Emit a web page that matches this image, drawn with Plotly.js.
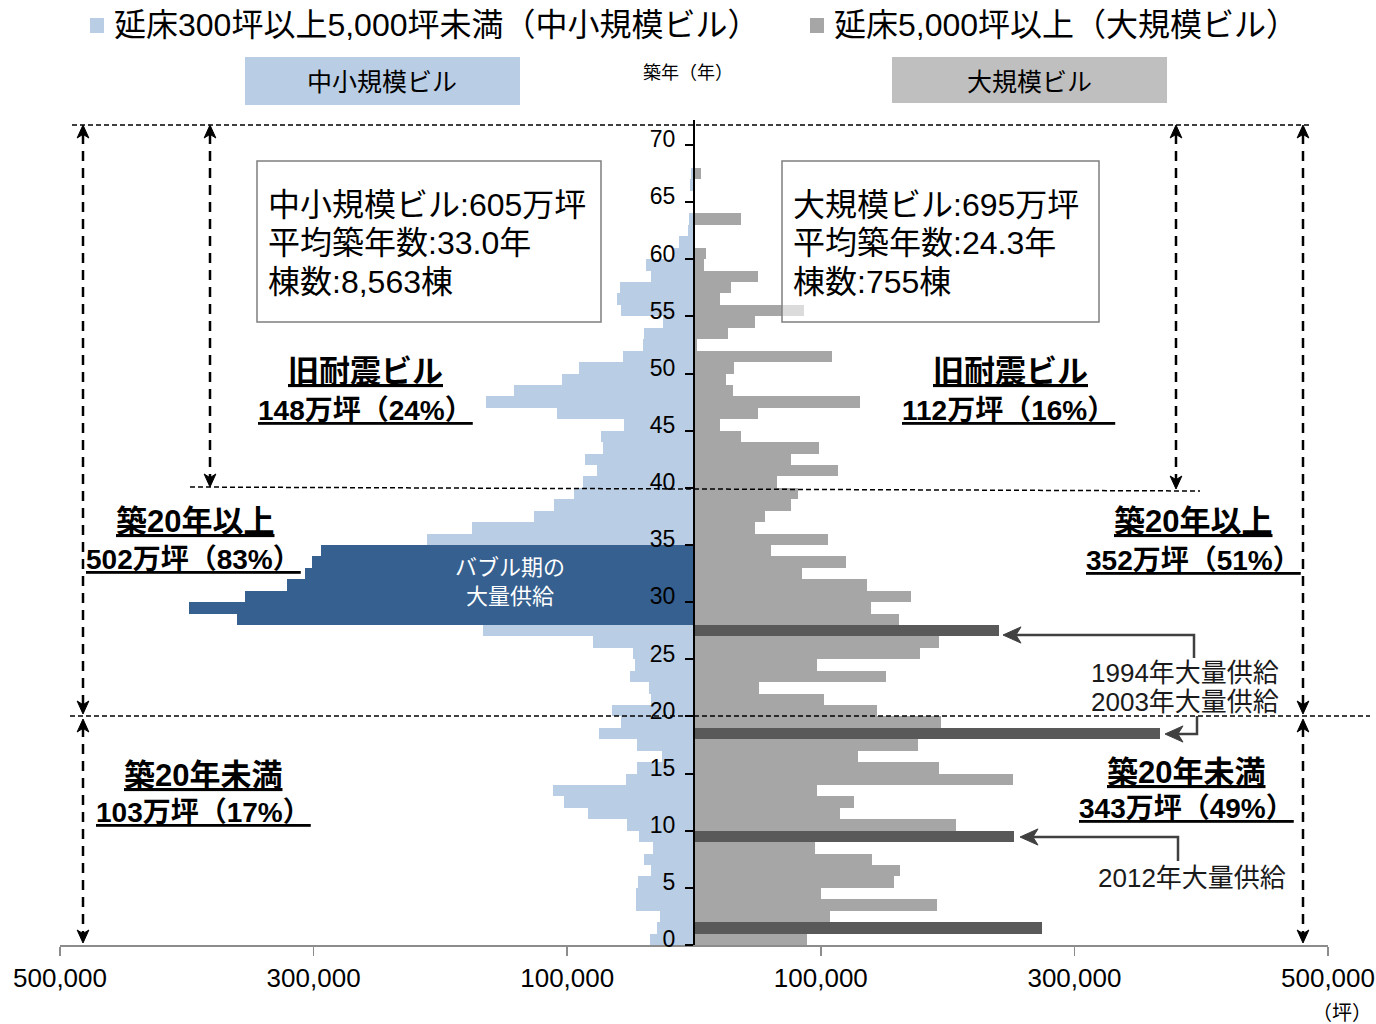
<!DOCTYPE html>
<html><head><meta charset="utf-8">
<script src="https://cdn.plot.ly/plotly-3.0.1.min.js"></script>
<style>html,body{margin:0;padding:0;background:#fff}</style>
</head><body><div id="chart" style="width:1376px;height:1024px"></div>
<script>
// 築年 (years since construction), one bar per year
const ages = [0,1,2,3,4,5,6,7,8,9,10,11,12,13,14,15,16,17,18,19,20,21,22,23,24,25,26,27,28,29,
  30,31,32,33,34,35,36,37,38,39,40,41,42,43,44,45,46,47,48,49,50,51,52,53,54,55,56,57,58,59,
  60,61,62,63,64,65,66,67,68,69];
// 延床300坪以上5,000坪未満（中小規模ビル）, 坪
const smallBldg = [34700,28900,26800,45700,45700,43900,34100,39200,32100,43100,
  53100,83800,102300,110900,53600,44700,25000,44700,74900,57800,
  64900,34100,35200,50500,46500,47900,80000,166600,360600,398000,
  354100,320700,306800,301500,294100,210800,175300,125900,110200,94400,
  87300,76700,85700,72000,73600,55200,108300,164000,141900,104100,
  90900,55700,40000,39400,24200,57800,61000,58400,33900,37900,
  16300,11600,4500,3700,1000,500,3500,2000,0,0];
// 延床5,000坪以上（大規模ビル）, 坪
const largeBldg = [89400,274800,107000,191900,100500,157500,162200,140700,95700,252100,
  206900,114900,125900,96800,251300,193000,129700,176700,367500,195100,
  144100,102800,51000,151200,96800,178500,193000,240300,161700,139900,
  170900,136700,84900,119600,60500,105700,47900,55700,76800,82000,
  65800,113900,76800,98600,36800,20800,50500,130700,30800,25000,
  31500,108800,2700,26800,47900,86700,20800,28900,50500,7900,
  9800,0,0,36800,0,0,0,5800,0,0];
const bubbleAges = [28,29,30,31,32,33,34];   // バブル期の大量供給
const peakAges = [1,9,18,27];                // 2012 / 2003 / 1994 大量供給
const yTickLabels = ['0','5','10','15','20','25','30','35','40','45','50','55','60','65','70'];
const yTickYears = [0,5,10,15,20,25,30,35,40,45,50,55,60,65,70];
const xTickVals = [-500000,-300000,-100000,100000,300000,500000];
const xTickText = ['500,000','300,000','100,000','100,000','300,000','500,000'];

const C_LB='#B9CDE5', C_DB='#36608F', C_G='#A6A6A6', C_DG='#595959';
const FONT = 'Liberation Sans, Arial, Noto Sans CJK JP, sans-serif';
const JFONT = 'Liberation Sans, Arial, Noto Sans CJK JP, sans-serif';

const traces = [
  {type:'bar', orientation:'h', y: ages.map(a=>a+0.5), x: smallBldg.map(v=>-v), width:1,
   marker:{color: ages.map(a=>bubbleAges.includes(a)?C_DB:C_LB), line:{width:0}}, hoverinfo:'skip'},
  {type:'bar', orientation:'h', y: ages.map(a=>a+0.5), x: largeBldg, width:1,
   marker:{color: ages.map(a=>peakAges.includes(a)?C_DG:C_G), line:{width:0}}, hoverinfo:'skip'},
  {type:'scatter', x:[0], y:[0], yaxis:'y2', mode:'markers', marker:{opacity:0}, hoverinfo:'skip'}
];

// pixel -> paper helpers for decorations
const L=60, R=1328, T=120, B=945;
const PX = x => (x-L)/(R-L);
const PY = y => (B-y)/(B-T);

const shapes = [];
const annotations = [];
function rect(x0,y0,x1,y1,fill,line,lw){
  shapes.push({type:'rect', xref:'paper', yref:'paper', x0:PX(x0), x1:PX(x1), y0:PY(y1), y1:PY(y0),
    fillcolor:fill, line:{color:line||'rgba(0,0,0,0)', width:lw||0}, layer:'above'});
}
function line(x0,y0,x1,y1,color,w,dash){
  shapes.push({type:'line', xref:'paper', yref:'paper', x0:PX(x0), x1:PX(x1), y0:PY(y0), y1:PY(y1),
    line:{color:color, width:w, dash:dash||'solid'}, layer:'above'});
}
function pathPx(pts, color, w, fill){
  let d = pts.map((p,i)=>(i?'L':'M')+PX(p[0])+','+PY(p[1])).join(' ');
  if (fill) d += ' Z';
  shapes.push({type:'path', xref:'paper', yref:'paper', path:d,
    line:{color:color, width:w}, fillcolor: fill?color:'rgba(0,0,0,0)', layer:'above'});
}
function arrowHead(x,y,dir,color,size){ // tip at (x,y)
  const s=size||12, h=s*0.45, n=s*0.72;
  let pts;
  if (dir==='up') pts=[[x,y],[x-h,y+s],[x,y+n],[x+h,y+s]];
  if (dir==='down') pts=[[x,y],[x-h,y-s],[x,y-n],[x+h,y-s]];
  if (dir==='left') pts=[[x,y],[x+s,y-h],[x+n,y],[x+s,y+h]];
  pathPx(pts, color, 1, true);
}
function text(x,y,t,size,opts){
  opts=opts||{};
  annotations.push({xref:'paper', yref:'paper', x:PX(x), y:PY(y), text:t, showarrow:false,
    xanchor:opts.xa||'center', yanchor:'middle',
    font:{family:opts.family||JFONT, size:size, color:opts.color||'#000', weight: opts.bold?'bold':'normal'}});
}

// legend row
rect(90,18,104,33,C_LB);
text(112,25,'延床300坪以上5,000坪未満（中小規模ビル）',32,{xa:'left'});
rect(810,18,824,33,C_G);
text(832,25,'延床5,000坪以上（大規模ビル）',32,{xa:'left'});
// header boxes
rect(245,57,520,105,C_LB);
text(382,82,'中小規模ビル',25);
rect(892,57,1167,103,'#BFBFBF');
text(1029,82,'大規模ビル',25);
text(688,73,'築年（年）',18);

// info boxes
rect(257,161,601,322,'rgba(255,255,255,0.6)','#7F7F7F',1.5);
text(266,205,'中小規模ビル:605万坪',32,{xa:'left'});
text(266,243,'平均築年数:33.0年',32,{xa:'left'});
text(266,282,'棟数:8,563棟',32,{xa:'left'});
rect(782,161,1099,322,'rgba(255,255,255,0.6)','#7F7F7F',1.5);
text(791,205,'大規模ビル:695万坪',32,{xa:'left'});
text(791,243,'平均築年数:24.3年',32,{xa:'left'});
text(791,282,'棟数:755棟',32,{xa:'left'});

// bold underlined summary labels
const U = s => '<u>'+s+'</u>';
text(365,371,U('旧耐震ビル'),31,{bold:true});
text(365,410,U('148万坪（24%）'),28,{bold:true});
text(1010,371,U('旧耐震ビル'),31,{bold:true});
text(1008,410,U('112万坪（16%）'),28,{bold:true});
text(195,521,U('築20年以上'),31,{bold:true});
text(193,559,U('502万坪（83%）'),28,{bold:true});
text(1193,521,U('築20年以上'),31,{bold:true});
text(1193,560,U('352万坪（51%）'),28,{bold:true});
text(203,775,U('築20年未満'),31,{bold:true});
text(203,812,U('103万坪（17%）'),28,{bold:true});
text(1186,772,U('築20年未満'),31,{bold:true});
text(1186,808,U('343万坪（49%）'),28,{bold:true});

// bubble label
text(510,567,'バブル期の',22,{color:'#fff'});
text(510,596,'大量供給',22,{color:'#fff'});

// callouts
text(1185,673,'1994年大量供給',26,{color:'#1a1a1a'});
text(1185,702,'2003年大量供給',26,{color:'#1a1a1a'});
text(1192,878,'2012年大量供給',26,{color:'#1a1a1a'});
const AC='#404040';
pathPx([[1194,658],[1194,635],[1015,635]],AC,2.5);
arrowHead(1003,635,'left',AC,18);
pathPx([[1197,716],[1197,734],[1177,734]],AC,2.5);
arrowHead(1165,734,'left',AC,18);
pathPx([[1178,861],[1178,837],[1032,837]],AC,2.5);
arrowHead(1020,837,'left',AC,18);

// dashed guide lines
line(72,125,1312,125,'#000',1.5,'5px,3px');
line(190,487,1200,491,'#000',1.5,'5px,3px');
line(70,716,1370,716,'#000',1.5,'5px,3px');
[[83],[1303]].forEach(([x])=>{
  line(x,134,x,706,'#000',2.5,'10px,7px');
  arrowHead(x,125,'up','#000',13);
  arrowHead(x,714,'down','#000',13);
  line(x,727,x,936,'#000',2.5,'10px,7px');
  arrowHead(x,719,'up','#000',13);
  arrowHead(x,943,'down','#000',13);
});
line(210,134,210,478,'#000',2.5,'10px,7px');
arrowHead(210,125,'up','#000',13);
arrowHead(210,487,'down','#000',13);
line(1176,134,1176,480,'#000',2.5,'10px,7px');
arrowHead(1176,125,'up','#000',13);
arrowHead(1176,489,'down','#000',13);

text(1342,1013,'（坪）',20);

const yMax = (B-T)/11.43;
const layout = {
  width:1376, height:1024,
  margin:{l:L, r:1376-R, t:T, b:1024-B},
  paper_bgcolor:'#fff', plot_bgcolor:'#fff',
  barmode:'overlay', bargap:0, showlegend:false,
  font:{family:FONT, color:'#000'},
  xaxis:{range:[-500000,500000], tickvals:xTickVals, ticktext:xTickText,
    ticks:'outside', ticklen:9, tickwidth:1.5, tickcolor:'#8C8C8C',
    showline:true, linecolor:'#8C8C8C', linewidth:2, showgrid:false, zeroline:false,
    tickfont:{size:26, color:'#000', family:FONT}, ticklabelstandoff:0, fixedrange:true},
  yaxis:{range:[0,yMax], anchor:'free', position:0.5,
    tickvals: yTickYears.map(v=>v+0.5), ticktext: yTickLabels,
    ticks:'outside', ticklen:14, tickcolor:'rgba(0,0,0,0)',
    showline:false, showgrid:false, zeroline:false,
    tickfont:{size:23, color:'#000', family:FONT}},
  yaxis2:{range:[0,yMax], overlaying:'y', anchor:'free', position:0.5, side:'left',
    tickvals: yTickYears, ticks:'outside', ticklen:8, tickwidth:2, tickcolor:'#000',
    showticklabels:false, showline:true, linecolor:'#000', linewidth:2,
    showgrid:false, zeroline:false},
  shapes:shapes, annotations:annotations
};
Plotly.newPlot('chart', traces, layout, {displayModeBar:false, staticPlot:true});
</script></body></html>
